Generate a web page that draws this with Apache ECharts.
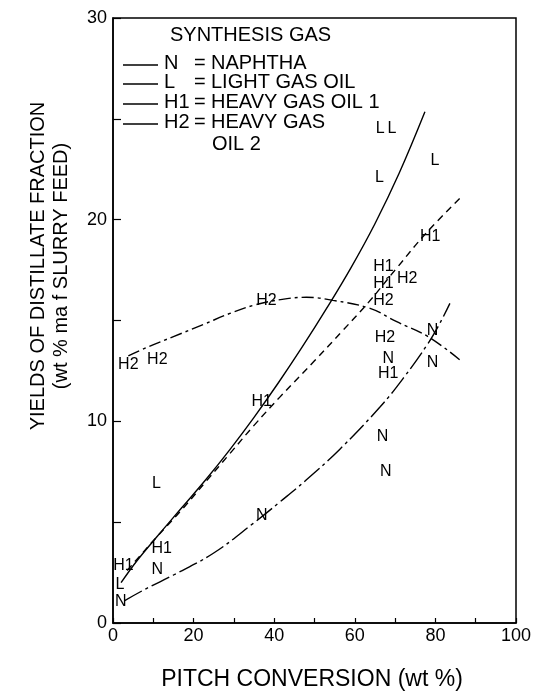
<!DOCTYPE html>
<html><head><meta charset="utf-8">
<script src="https://cdn.jsdelivr.net/npm/echarts@6/dist/echarts.min.js"></script>
<style>html,body{margin:0;padding:0;background:#fff}#c{width:535px;height:695px}</style>
</head><body><div id="c"></div>
<script>
const FONT = '"Liberation Sans", Arial, sans-serif';
const xTickLabels = [0, 20, 40, 60, 80, 100];
const yTickLabels = [0, 10, 20, 30];

// fitted curves
const curveN = [[2.8,1.1],[8.4,1.72],[15,2.38],[24.9,3.46],[34.8,4.94],[41.4,6.0],[48,7.1],[56.3,8.62],[66.3,10.72],[72,12.13],[78.2,13.87],[81.1,14.86],[83.6,15.85]];
const curveL = [[2,2.0],[6,3.1],[11,4.3],[17,5.7],[23,7.1],[29,8.6],[35,10.2],[41,11.9],[47,13.7],[53,15.6],[59,17.6],[65,19.8],[71,22.3],[77.4,25.35]];
const curveH1 = [[3.5,2.6],[7,3.4],[11,4.3],[17,5.6],[23,7.0],[29,8.4],[35,9.8],[41.4,11.2],[50,13.0],[57,14.5],[63.4,15.9],[70.4,17.6],[78,19.4],[86.3,21.1]];
const curveH2 = [[3.8,13.25],[8.8,13.7],[15,14.2],[22.4,14.8],[29,15.35],[35.2,15.77],[42,16.05],[48,16.15],[54.6,16.0],[63.8,15.6],[70.4,14.94],[78.2,14.2],[86.1,13.04]];

// data points (drawn as letters)
const pointsN = [[1.9,1.06],[11.0,2.63],[36.9,5.35],[67.7,7.5],[66.9,9.24],[68.3,13.12],[79.3,12.9],[79.3,14.5]];
const pointsL = [[1.7,1.88],[10.8,6.93],[66.1,22.1],[66.3,24.5],[69.2,24.5],[79.9,22.95]];
const pointsH1 = [[2.6,2.83],[12.1,3.7],[36.9,10.97],[68.3,12.38],[67.1,16.85],[67.1,17.67],[78.7,19.15]];
const pointsH2 = [[3.8,12.79],[11.0,13.04],[38.1,16.0],[67.5,14.16],[67.1,16.0],[73.0,17.1]];

const legendRows = [
  {code: 'N', name: 'NAPHTHA', y: 63},
  {code: 'L', name: 'LIGHT GAS OIL', y: 82},
  {code: 'H1', name: 'HEAVY GAS OIL 1', y: 102},
  {code: 'H2', name: 'HEAVY GAS', y: 122}
];

function lineSeries(data, type) {
  return {type: 'line', data: data, smooth: 0.4, symbol: 'none', silent: true,
    lineStyle: {color: '#000', width: 1.4, type: type}};
}
function letterSeries(data, letter) {
  return {type: 'scatter', data: data, symbolSize: 1, silent: true,
    itemStyle: {color: 'rgba(0,0,0,0)'},
    label: {show: true, position: 'inside', formatter: letter, color: '#000', opacity: 1,
      textBorderWidth: 0, fontSize: 16, fontFamily: FONT}};
}

const graphic = [
  {type: 'text', x: 38, y: 266, rotation: Math.PI/2,
   style: {text: 'YIELDS OF DISTILLATE FRACTION', font: '20px ' + FONT, fill: '#000', textAlign: 'center', textVerticalAlign: 'middle'}},
  {type: 'text', x: 61, y: 266, rotation: Math.PI/2,
   style: {text: '(wt % ma f SLURRY FEED)', font: '20px ' + FONT, fill: '#000', textAlign: 'center', textVerticalAlign: 'middle'}},
  {type: 'text', x: 312, y: 680,
   style: {text: 'PITCH CONVERSION (wt %)', font: '23px ' + FONT, fill: '#000', textAlign: 'center', textVerticalAlign: 'middle'}},
  {type: 'text', x: 170, y: 35,
   style: {text: 'SYNTHESIS GAS', font: '20px ' + FONT, fill: '#000', textAlign: 'left', textVerticalAlign: 'middle'}},
  {type: 'text', x: 212, y: 144,
   style: {text: 'OIL 2', font: '20px ' + FONT, fill: '#000', textAlign: 'left', textVerticalAlign: 'middle'}}
];
legendRows.forEach(function (r) {
  graphic.push({type: 'line', shape: {x1: 123, y1: r.y + 2, x2: 158, y2: r.y + 2},
    style: {stroke: '#000', lineWidth: 1.4}});
  graphic.push({type: 'text', x: 164, y: r.y,
    style: {text: r.code, font: '20px ' + FONT, fill: '#000', textAlign: 'left', textVerticalAlign: 'middle'}});
  graphic.push({type: 'text', x: 194, y: r.y,
    style: {text: '=', font: '20px ' + FONT, fill: '#000', textAlign: 'left', textVerticalAlign: 'middle'}});
  graphic.push({type: 'text', x: 211, y: r.y,
    style: {text: r.name, font: '20px ' + FONT, fill: '#000', textAlign: 'left', textVerticalAlign: 'middle'}});
});

const chart = echarts.init(document.getElementById('c'), null, {renderer: 'canvas'});
chart.setOption({
  animation: false,
  backgroundColor: '#fff',
  grid: {left: 113, right: 19, top: 18, bottom: 72, show: true, borderColor: '#000', borderWidth: 1.5},
  xAxis: {type: 'value', min: 0, max: 100, interval: 10,
    axisLine: {lineStyle: {color: '#000', width: 1.5}},
    axisTick: {inside: true, length: 5, lineStyle: {color: '#000', width: 1.2}},
    axisLabel: {formatter: function (v) { return xTickLabels.indexOf(v) >= 0 ? String(v) : ''; },
      fontSize: 18, color: '#000', margin: 4, fontFamily: FONT},
    splitLine: {show: false}},
  yAxis: {type: 'value', min: 0, max: 30, interval: 5,
    axisLine: {lineStyle: {color: '#000', width: 1.5}},
    axisTick: {inside: true, length: 8, lineStyle: {color: '#000', width: 1.2}},
    axisLabel: {formatter: function (v) { return yTickLabels.indexOf(v) >= 0 ? String(v) : ''; },
      fontSize: 18, color: '#000', margin: 6, fontFamily: FONT},
    splitLine: {show: false}},
  graphic: graphic,
  series: [
    lineSeries(curveL, 'solid'),
    lineSeries(curveH1, [7, 5]),
    lineSeries(curveH2, [12, 4, 3, 4]),
    lineSeries(curveN, [20, 4, 3, 4]),
    letterSeries(pointsN, 'N'),
    letterSeries(pointsL, 'L'),
    letterSeries(pointsH1, 'H1'),
    letterSeries(pointsH2, 'H2')
  ]
});
</script></body></html>
